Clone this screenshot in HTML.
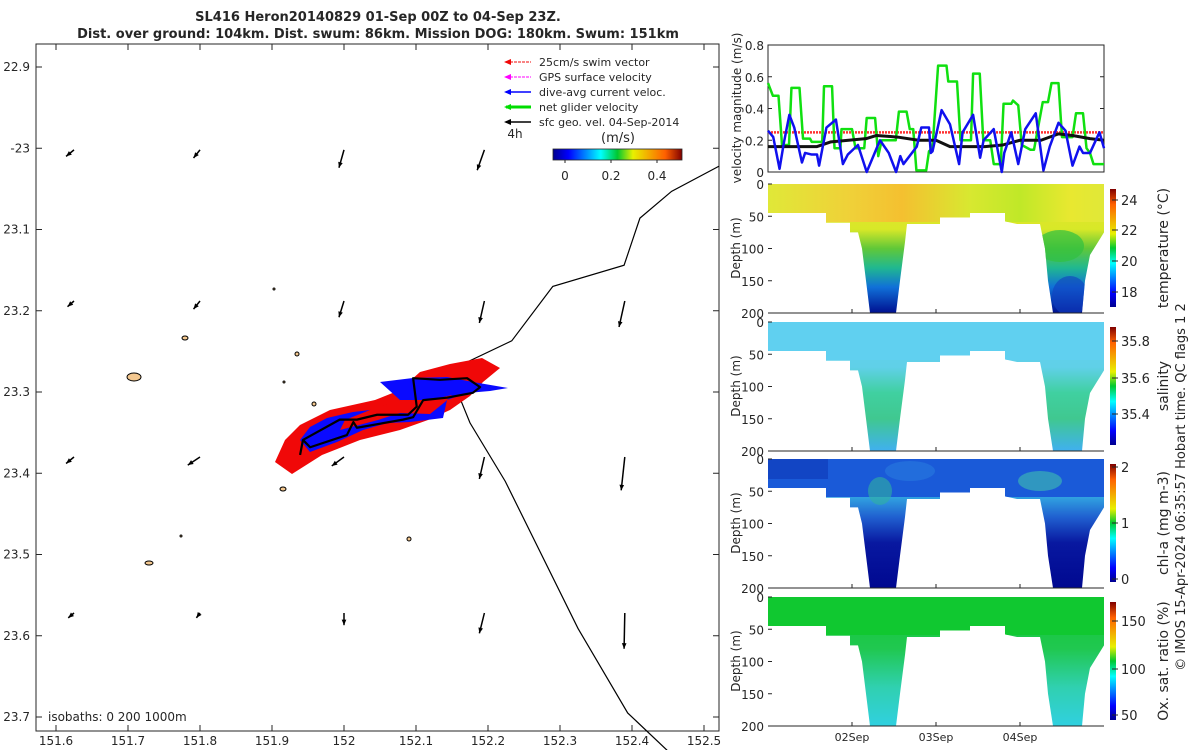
<!DOCTYPE html>
<html><head><meta charset="utf-8">
<style>
body{margin:0;background:#fff;width:1200px;height:750px;overflow:hidden;font-family:"Liberation Sans",sans-serif;}
svg text{font-family:"DejaVu Sans","Liberation Sans",sans-serif;fill:#262626;}
</style></head>
<body>
<svg id="fig" width="1200" height="750" viewBox="0 0 1200 750" xmlns="http://www.w3.org/2000/svg">
<defs>
<linearGradient id="jet" x1="0" y1="1" x2="0" y2="0">
<stop offset="0" stop-color="#00008f"/><stop offset="0.12" stop-color="#0000ff"/><stop offset="0.37" stop-color="#00ffff"/><stop offset="0.5" stop-color="#00c830"/><stop offset="0.62" stop-color="#e8f000"/><stop offset="0.87" stop-color="#ff6000"/><stop offset="1" stop-color="#800000"/></linearGradient>
<linearGradient id="jeth" x1="0" y1="0" x2="1" y2="0">
<stop offset="0" stop-color="#00008f"/><stop offset="0.12" stop-color="#0000ff"/><stop offset="0.37" stop-color="#00ffff"/><stop offset="0.5" stop-color="#00c830"/><stop offset="0.62" stop-color="#e8f000"/><stop offset="0.87" stop-color="#ff6000"/><stop offset="1" stop-color="#800000"/></linearGradient>
<linearGradient id="gT" x1="0" y1="0" x2="0" y2="1"><stop offset="0" stop-color="#e8e030"/><stop offset="0.35" stop-color="#d8e828"/><stop offset="0.5" stop-color="#60c838"/><stop offset="0.65" stop-color="#20b890"/><stop offset="0.8" stop-color="#1070d8"/><stop offset="1" stop-color="#001090"/></linearGradient>
<linearGradient id="gTs" x1="0" y1="0" x2="1" y2="0"><stop offset="0" stop-color="#e0e838"/><stop offset="0.25" stop-color="#f0d038"/><stop offset="0.4" stop-color="#f4c030"/><stop offset="0.6" stop-color="#d8e830"/><stop offset="0.75" stop-color="#c0e828"/><stop offset="0.9" stop-color="#e8e830"/><stop offset="1" stop-color="#e0e838"/></linearGradient>
<linearGradient id="gS" x1="0" y1="0" x2="0" y2="1"><stop offset="0" stop-color="#60d0f0"/><stop offset="0.35" stop-color="#60d0e8"/><stop offset="0.55" stop-color="#40d0a0"/><stop offset="0.75" stop-color="#40c890"/><stop offset="1" stop-color="#40b0f0"/></linearGradient>
<linearGradient id="gC" x1="0" y1="0" x2="0" y2="1"><stop offset="0" stop-color="#1048d0"/><stop offset="0.3" stop-color="#30a0e0"/><stop offset="0.45" stop-color="#2060d0"/><stop offset="0.65" stop-color="#0818a0"/><stop offset="1" stop-color="#000890"/></linearGradient>
<linearGradient id="gO" x1="0" y1="0" x2="0" y2="1"><stop offset="0" stop-color="#10c830"/><stop offset="0.4" stop-color="#20c850"/><stop offset="0.7" stop-color="#30d0b0"/><stop offset="1" stop-color="#30d0e0"/></linearGradient>
</defs>
</svg>
<script>
// ---------- DATA ----------
var mapLonTicks=[151.6,151.7,151.8,151.9,152,152.1,152.2,152.3,152.4,152.5];
var mapLonLabels=["151.6","151.7","151.8","151.9","152","152.1","152.2","152.3","152.4","152.5"];
var mapLatTicks=[-22.9,-23,-23.1,-23.2,-23.3,-23.4,-23.5,-23.6,-23.7];
var mapLatLabels=["22.9","-23","23.1","23.2","23.3","23.4","23.5","23.6","23.7"];
var coastLon=[152.521,152.455,152.411,152.389,152.290,152.233,152.169,152.158,152.158,152.175,152.224,152.325,152.394,152.45];
var coastLat=[-23.022,-23.053,-23.086,-23.144,-23.170,-23.237,-23.264,-23.273,-23.301,-23.338,-23.410,-23.591,-23.695,-23.742];
var arrowLon=[151.625,151.8,152.0,152.195,152.39];
var arrowLat=[-23.002,-23.188,-23.380,-23.572];
var arrowU=[[-0.011,-0.009,-0.007,-0.010,null],[-0.009,-0.009,-0.007,-0.007,-0.008],[-0.011,-0.017,-0.017,-0.007,-0.005],[-0.008,-0.005,0.0,-0.007,-0.001]];
var arrowV=[[-0.008,-0.010,-0.022,-0.025,null],[-0.007,-0.010,-0.020,-0.027,-0.032],[-0.008,-0.010,-0.011,-0.027,-0.041],[-0.006,-0.006,-0.015,-0.025,-0.044]];
var trackLon=[151.939,151.943,151.994,152.018,152.046,152.089,152.101,152.096,152.133,152.171,152.189,152.179,152.143,152.110,152.096,152.082,152.018,152.013,152.004,151.953,151.943];
var trackLat=[-23.3775,-23.359,-23.334,-23.334,-23.328,-23.328,-23.318,-23.283,-23.285,-23.283,-23.294,-23.301,-23.307,-23.310,-23.331,-23.334,-23.344,-23.337,-23.353,-23.368,-23.359];
var velT=[0,1.4,3,4,6,6.7,9,10,12,12.5,15.5,16,18.3,19,20.7,21,24,25,27.5,28.2,30.6,31.5,32.5,36.5,37.4,39.6,40.5,41.5,42.4,45.2,46,47,48.6,51,51.5,54,55,58,58.6,60.5,61.5,63.5,64.5,66.5,67.3,69.5,70,71.5,72.5,75,76,78.5,80,81,83,84,87,88,90,91,92,93,96];
var netVel=[0.56,0.48,0.48,0.17,0.17,0.53,0.53,0.21,0.21,0.19,0.19,0.54,0.54,0.15,0.15,0.27,0.27,0.15,0.15,0.34,0.34,0.10,0.20,0.20,0.38,0.38,0.27,0.27,0.01,0.01,0.13,0.15,0.67,0.67,0.57,0.57,0.20,0.20,0.62,0.62,0.20,0.20,0.05,0.05,0.43,0.43,0.45,0.42,0.17,0.14,0.14,0.44,0.44,0.56,0.56,0.22,0.22,0.37,0.37,0.15,0.12,0.05,0.05];
var curT=[0,1.5,3.3,4.5,6.1,7.5,9.7,10.6,12.5,14,14.6,16.7,19.4,21.4,22.8,25.7,28.2,32,34.5,36.6,37.8,38.7,42.5,43.8,46,46.5,47,49.6,52,54.6,55.6,58.6,60.6,61.6,64.5,66.8,67.5,69.5,71.5,73.5,76.5,78.7,80.5,83,85,87,89,90,92,94.7,96];
var curVel=[0.26,0.22,0.02,0.18,0.36,0.28,0.06,0.12,0.11,0.11,0.04,0.28,0.33,0.05,0.11,0.17,0.0,0.2,0.12,0.0,0.1,0.05,0.16,0.28,0.28,0.12,0.13,0.39,0.3,0.05,0.25,0.36,0.09,0.2,0.27,0.0,0.12,0.25,0.05,0.27,0.37,0.01,0.16,0.31,0.26,0.04,0.16,0.12,0.12,0.25,0.15];
var geoT=[0,14,18,28,31,37,43,48,52,62,67,72,78,83,87,92,96];
var geoVel=[0.16,0.16,0.19,0.21,0.23,0.22,0.2,0.2,0.16,0.16,0.17,0.2,0.2,0.24,0.23,0.21,0.2];
var swimVel=[0.25,0.25];
var swimT=[0,96];
var velTicks=[0,0.2,0.4,0.6,0.8];
var dayTicks=[24,48,72];
var dayLabels=["02Sep","03Sep","04Sep"];
var depthTicks=[0,50,100,150,200];

// ---------- helpers ----------
var svg=document.getElementById('fig');
var NS='http://www.w3.org/2000/svg';
function el(tag,attrs,parent){var e=document.createElementNS(NS,tag);for(var k in attrs)e.setAttribute(k,attrs[k]);(parent||svg).appendChild(e);return e;}
function txt(s,x,y,size,anchor,parent,extra){var t=el('text',Object.assign({x:x,y:y,'font-size':size,'text-anchor':anchor||'start'},extra||{}),parent);t.textContent=s;return t;}
function mx(lon){return 56+(lon-151.6)*720;}
function my(lat){return 67+(-22.9-lat)*812.5;}
function vx(t){return 768+t*3.5;}
function vy(v){return 172-v*158.75;}

// ---------- MAP ----------
var map=el('g',{});


el('rect',{x:36,y:44,width:683,height:687,fill:'none',stroke:'#262626','stroke-width':1},map);
mapLonTicks.forEach(function(v,i){var x=mx(v);el('line',{x1:x,y1:731,x2:x,y2:725,stroke:'#262626'},map);el('line',{x1:x,y1:44,x2:x,y2:50,stroke:'#262626'},map);
var t=txt(mapLonLabels[i],x,745,12,'middle',map);});
mapLatTicks.forEach(function(v,i){var y=my(v);el('line',{x1:36,y1:y,x2:42,y2:y,stroke:'#262626'},map);el('line',{x1:719,y1:y,x2:713,y2:y,stroke:'#262626'},map);
var t=txt(mapLatLabels[i],30,y+4,12,'end',map);});
[[134,377,7,4],[185,338,3,2],[297,354,2,2],[284,382,1,1],[314,404,2,2],[283,489,3,2],[149,563,4,2],[181,536,1,1],[409,539,2,2],[274,289,1,1]].forEach(function(r){var e=el('ellipse',{cx:r[0],cy:r[1],rx:r[2],ry:r[3],fill:'#f4c890',stroke:'#000','stroke-width':1},map);});
var cp=coastLon.map(function(l,i){return mx(l)+','+my(coastLat[i]);}).join(' ');
var coast=el('polyline',{points:cp,fill:'none',stroke:'#000','stroke-width':1.2},map);

var red=el('polygon',{points:'275,462 285,440 300,425 330,410 375,400 400,390 420,372 450,364 482,358 500,368 483,382 470,396 450,410 428,420 400,430 360,440 322,455 292,474',fill:'#f00808'},map);

var blue=el('polygon',{points:'300,440 310,427 327,418 353,412 387,408 400,400 380,382 413,378 447,377 473,382 508,388 490,391 467,393 447,400 443,418 410,422 387,423 363,430 337,442 310,452',fill:'#0a0aff'},map);

var rin=el('polygon',{points:'340,430 378,420 400,413 430,414 445,402 452,395 430,400 400,400 370,410 345,420',fill:'#f00808'},map);

var tp=trackLon.map(function(l,i){return mx(l)+','+my(trackLat[i]);}).join(' ');
var tr=el('polyline',{points:tp,fill:'none',stroke:'#000','stroke-width':2.2,'stroke-linejoin':'round'},map);

for(var r=0;r<arrowLat.length;r++){for(var c=0;c<arrowLon.length;c++){var u=arrowU[r][c],v=arrowV[r][c];if(u===null)continue;
var x0=mx(arrowLon[c]),y0=my(arrowLat[r]);var x1=mx(arrowLon[c]+u),y1=my(arrowLat[r]+v);
var g=el('g',{},map);
el('line',{x1:x0,y1:y0,x2:x1,y2:y1,stroke:'#000','stroke-width':1.5},g);
var a=Math.atan2(y1-y0,x1-x0),L=6;
el('polygon',{points:x1+','+y1+' '+(x1-L*Math.cos(a-0.4))+','+(y1-L*Math.sin(a-0.4))+' '+(x1-L*Math.cos(a+0.4))+','+(y1-L*Math.sin(a+0.4)),fill:'#000'},g);}}
var iso=txt('isobaths: 0   200   1000m',48,721,12,'start',map,{'xml:space':'preserve'});
var leg=el('g',{},map);
var items=[['25cm/s swim vector','#f00808',1,'3,1'],['GPS surface velocity','#ff00ff',1,'3,1'],['dive-avg current veloc.','#0000ff',1.5,''],['net glider velocity','#00dd00',3,''],['sfc geo. vel. 04-Sep-2014','#000',1.5,'']];
items.forEach(function(it,i){var y=62+i*15;var g=el('g',{},leg);
el('line',{x1:506,y1:y,x2:531,y2:y,stroke:it[1],'stroke-width':it[2],'stroke-dasharray':it[3]},g);
el('polygon',{points:'504,'+y+' 511,'+(y-3)+' 511,'+(y+3),fill:it[1]},g);
txt(it[0],539,y+4,11,'start',g);});
txt('4h',515,138,12,'middle',leg);
txt('(m/s)',618,142,13,'middle',leg);
var cb=el('rect',{x:553,y:149,width:129,height:11,fill:'url(#jeth)',stroke:'#262626','stroke-width':0.8},leg);
[['0',565],['0.2',611],['0.4',657]].forEach(function(p){el('line',{x1:p[1],y1:160,x2:p[1],y2:163,stroke:'#262626'},leg);txt(p[0],p[1],180,12,'middle',leg);});
var t1=txt('SL416 Heron20140829 01-Sep 00Z to 04-Sep 23Z.',378,21,13,'middle',null,{'font-weight':'bold'});
var t2=txt('Dist. over ground: 104km. Dist. swum: 86km. Mission DOG: 180km. Swum: 151km',378,38,13,'middle',null,{'font-weight':'bold'});

// ---------- VELOCITY PANEL ----------
var vp=el('g',{});
el('rect',{x:768,y:45,width:336,height:127,fill:'#fff',stroke:'#262626'},vp);
velTicks.forEach(function(v){var y=vy(v);el('line',{x1:768,y1:y,x2:772,y2:y,stroke:'#262626'},vp);el('line',{x1:1104,y1:y,x2:1100,y2:y,stroke:'#262626'},vp);var t=txt(String(v),764,y+5,12,'end',vp);});
var vt=txt('velocity magnitude (m/s)',0,0,12,'middle',vp,{transform:'translate(741,108) rotate(-90)'});
function series(T,V,color,w,name,dash){var p=T.map(function(t,i){return vx(t)+','+vy(V[i]);}).join(' ');var l=el('polyline',{points:p,fill:'none',stroke:color,'stroke-width':w,'stroke-linejoin':'round','stroke-dasharray':dash||''},vp);}
series(swimT,swimVel,'#ff3030',2.5,'swim-speed-line','2,1');
series(velT,netVel,'#10e010',2.5,'net-velocity-line');
series(geoT,geoVel,'#111',3,'geostrophic-velocity-line');
series(curT,curVel,'#1010ee',2.5,'current-velocity-line');

// ---------- SECTION PANELS ----------
var outline='768,0 1104,0 1104,75 1100,85 1090,110 1085,150 1082,200 1053,200 1048,150 1045,100 1040,62 1017,62 1005,58 1005,45 970,45 970,52 940,52 940,62 907,62 905,90 900,150 896,200 870,200 866,150 862,100 858,75 850,75 850,60 826,60 826,45 768,45';
var panels=[
 {top:184,name:'temperature',fill:'url(#gT)',surf:'url(#gTs)',label:'temperature (°C)',ticks:[['24',200],['22',230],['20',261],['18',292]]},
 {top:322,name:'salinity',fill:'url(#gS)',surf:'#60d0f0',label:'salinity',ticks:[['35.8',341],['35.6',378],['35.4',414]]},
 {top:459,name:'chlorophyll',fill:'url(#gC)',surf:'#1a5ad8',label:'chl-a (mg m-3)',ticks:[['2',467],['1',523],['0',579]]},
 {top:597,name:'oxygen',fill:'url(#gO)',surf:'#10c830',label:'Ox. sat. ratio (%)',ticks:[['150',621],['100',669],['50',715]]}];
panels.forEach(function(P){
 var g=el('g',{});
 var pts=outline.split(' ').map(function(s){var a=s.split(',');return a[0]+','+(P.top+(+a[1])*0.645);}).join(' ');
 el('clipPath',{id:'cp'+P.name},g).appendChild(el('polygon',{points:pts},g));
 var cg=el('g',{'clip-path':'url(#cp'+P.name+')'},g);
 el('rect',{x:768,y:P.top,width:336,height:129,fill:P.fill},cg);
 el('rect',{x:768,y:P.top,width:336,height:38,fill:P.surf},cg);
 if(P.name==='chlorophyll'){el('ellipse',{cx:880,cy:P.top+32,rx:12,ry:14,fill:'#30b0a0',opacity:0.6},cg);el('ellipse',{cx:1040,cy:P.top+22,rx:22,ry:10,fill:'#40c0b0',opacity:0.6},cg);el('ellipse',{cx:910,cy:P.top+12,rx:25,ry:10,fill:'#2a80e0',opacity:0.5},cg);el('rect',{x:768,y:P.top,width:60,height:20,fill:'#0a30b0',opacity:0.5},cg);}
 if(P.name==='temperature'){el('ellipse',{cx:1060,cy:P.top+62,rx:24,ry:16,fill:'#30c040',opacity:0.7},cg);el('ellipse',{cx:1070,cy:P.top+112,rx:18,ry:20,fill:'#1040c0',opacity:0.6},cg);}
 el('line',{x1:768,y1:P.top+129,x2:1104,y2:P.top+129,stroke:'#262626'},g);
 depthTicks.forEach(function(d){var y=P.top+d*0.645;el('line',{x1:768,y1:y,x2:772,y2:y,stroke:'#262626'},g);var t=txt(String(d),764,y+5,12,'end',g);});
 dayTicks.forEach(function(d){el('line',{x1:vx(d),y1:P.top+129,x2:vx(d),y2:P.top+125,stroke:'#262626'},g);});
 var yt=txt('Depth (m)',0,0,12,'middle',g,{transform:'translate(740,'+(P.top+64)+') rotate(-90)'});
 var c=el('rect',{x:1110,y:P.top+5,width:6,height:118,fill:'url(#jet)'},g);
 P.ticks.forEach(function(tk){el('line',{x1:1112,y1:tk[1],x2:1118,y2:tk[1],stroke:'#262626'},g);txt(tk[0],1121,tk[1]+5,13,'start',g);});
 var cl=txt(P.label,0,0,14,'middle',g,{transform:'translate(1168,'+(P.top+64)+') rotate(-90)'});
});
dayTicks.forEach(function(d,i){var t=txt(dayLabels[i],vx(d),741,11,'middle');});
var cr=txt('© IMOS 15-Apr-2024 06:35:57 Hobart time. QC flags 1  2',0,0,13,'middle',null,{transform:'translate(1185,487) rotate(-90)'});

</script>
</body></html>
